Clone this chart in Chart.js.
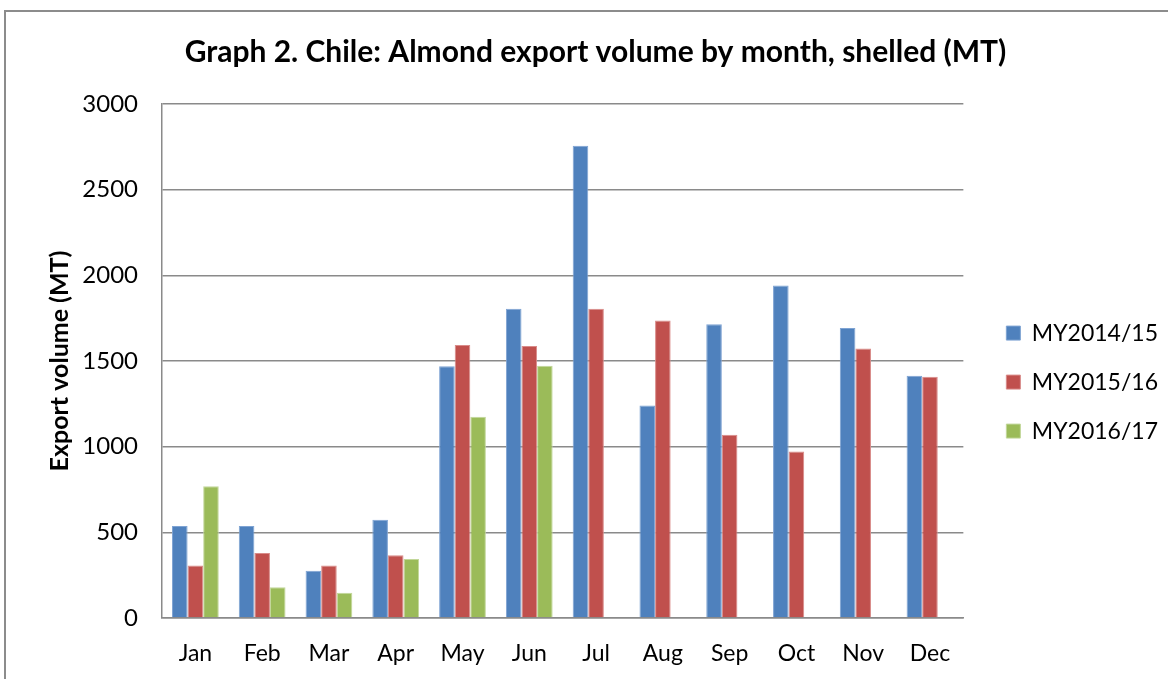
<!DOCTYPE html>
<html lang="en">
<head>
    <meta charset="UTF-8">
    <title>Chile almond export volume</title>
    <style>
        html, body {
            margin: 0;
            padding: 0;
            background: #fff;
        }
        #frame {
            position: absolute;
            left: 4px;
            top: 10px;
            width: 1180px;
            height: 700px;
            border-top: 2px solid #8c8c8c;
            border-left: 2px solid #8c8c8c;
        }
        #chartContainer {
            position: absolute;
            left: 0;
            top: 0;
            width: 1168px;
            height: 679px;
        }
    </style>
    <script src="https://cdn.jsdelivr.net/npm/chart.js"></script>
</head>
<body>
    <div id="frame"></div>
    <div id="chartContainer">
        <canvas id="exportChart"></canvas>
    </div>

    <script>
        // data (MT)
        const months = ['Jan', 'Feb', 'Mar', 'Apr', 'May', 'Jun', 'Jul', 'Aug', 'Sep', 'Oct', 'Nov', 'Dec'];
        const my2014 = [537, 537, 276, 573, 1469, 1805, 2757, 1241, 1714, 1940, 1692, 1414];
        const my2015 = [306, 380, 306, 366, 1594, 1588, 1805, 1736, 1070, 972, 1573, 1408];
        const my2016 = [769, 179, 147, 344, 1175, 1473, null, null, null, null, null, null];
        const yTicks = [0, 500, 1000, 1500, 2000, 2500, 3000];

        const fontFamily = 'Lato, "Open Sans", sans-serif';
        const gridColor = '#8a8a8a';

        const ctx = document.getElementById('exportChart').getContext('2d');
        const exportChart = new Chart(ctx, {
            type: 'bar',
            data: {
                labels: months,
                datasets: [
                    { label: 'MY2014/15', data: my2014, backgroundColor: '#4f81bd', borderColor: '#7ea3d3', borderWidth: 1 },
                    { label: 'MY2015/16', data: my2015, backgroundColor: '#c0504d', borderColor: '#d98b89', borderWidth: 1 },
                    { label: 'MY2016/17', data: my2016, backgroundColor: '#9bbb59', borderColor: '#c2d79a', borderWidth: 1 }
                ]
            },
            options: {
                responsive: true,
                maintainAspectRatio: false,
                animation: false,
                categoryPercentage: 0.7,
                barPercentage: 1.0,
                layout: {
                    padding: { left: 23, right: 0, bottom: 0 }
                },
                plugins: {
                    title: {
                        display: true,
                        text: 'Graph 2. Chile: Almond export volume by month, shelled (MT)',
                        color: '#000',
                        font: { family: fontFamily, size: 30, weight: 'bold' },
                        padding: { top: 34, bottom: 34 }
                    },
                    legend: {
                        position: 'right',
                        align: 'center',
                        // empty title only used to push the entries down a bit
                        title: {
                            display: true,
                            text: ' ',
                            font: { size: 1 },
                            padding: 42
                        },
                        labels: {
                            color: '#000',
                            font: { family: fontFamily, size: 23 },
                            boxWidth: 14,
                            boxHeight: 14,
                            padding: 26
                        }
                    },
                    tooltip: { enabled: false }
                },
                scales: {
                    x: {
                        grid: { display: false, drawTicks: false },
                        border: { color: gridColor, width: 1.5 },
                        ticks: {
                            color: '#000',
                            padding: 22,
                            font: { family: fontFamily, size: 23 }
                        },
                        afterFit: axis => { axis.height = 61; }
                    },
                    y: {
                        min: 0,
                        max: 3000,
                        afterBuildTicks: axis => {
                            axis.ticks = yTicks.map(v => ({ value: v }));
                        },
                        afterFit: axis => { axis.width = 139; },
                        grid: { color: gridColor, lineWidth: 1.5, drawTicks: false },
                        border: { color: gridColor, width: 1.5 },
                        ticks: {
                            color: '#000',
                            padding: 24,
                            font: { family: fontFamily, size: 24 },
                            callback: v => String(v)
                        },
                        title: {
                            display: true,
                            text: 'Export volume (MT)',
                            color: '#000',
                            font: { family: fontFamily, size: 25, weight: 'bold' },
                            padding: { top: 22, bottom: 9 }
                        }
                    },
                    // blank axis on the right, just a gap between plot and legend
                    gap: {
                        position: 'right',
                        display: true,
                        grid: { display: false, drawTicks: false },
                        border: { display: false },
                        ticks: { display: false },
                        afterFit: axis => { axis.width = 17; }
                    }
                }
            }
        });
    </script>
</body>
</html>
